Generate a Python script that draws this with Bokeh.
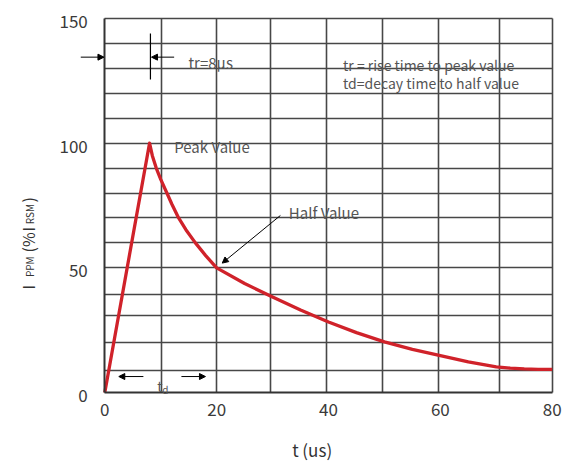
import math
from bokeh.plotting import figure
from bokeh.models import Range1d, FixedTicker, Label, Arrow, NormalHead, LinearAxis
from bokeh.embed import file_html
from bokeh.resources import INLINE

# data
t_us = [0, 8, 8.5, 9.2, 10, 11.1, 12, 13.2, 14.5, 16.2, 18, 20,
        25, 30, 35, 40, 45, 50, 55, 60, 65, 70, 72.5, 75, 77.5, 80]
ipp = [0, 100, 95, 90, 85.5, 80, 75.5, 70, 65.3, 60, 55, 50,
       43.7, 38.3, 33.1, 28.3, 24, 20.3, 17.3, 14.8, 12.3, 10.3, 9.75, 9.45, 9.3, 9.25]
x_ticks = [0, 20, 40, 60, 80]
y_ticks = [0, 50, 100, 150]
x_grid = [10.2, 20, 29.7, 39.6, 49.6, 59.7, 70.6, 80]
y_grid = [9, 20, 30.8, 39.4, 50, 60, 70, 80, 90, 100, 110, 120, 130, 140, 150]

FONT = "Noto Sans CJK SC"
GRID = "#474747"
TXT = "#555555"
W, H = 565, 464
SX = 447.4 / 80.0      # px per us
SY = 374.0 / 150.0     # px per %
X0 = -104.3 / SX
X1 = X0 + W / SX
Y1 = 150 + 18 / SY
Y0 = Y1 - H / SY

p = figure(width=W, height=H, output_backend="svg", toolbar_location=None,
           x_range=Range1d(X0, X1), y_range=Range1d(Y0, Y1), min_border=0)
p.title = None
p.background_fill_color = "white"
p.border_fill_color = "white"
p.outline_line_color = None

# offset range so the y tick labels sit on their grid lines
D = 1.2
p.extra_y_ranges = {"ylab": Range1d(Y0 + D, Y1 + D)}

def style_axis(ax):
    ax.major_tick_line_color = None
    ax.minor_tick_line_color = None
    ax.major_tick_out = 0
    ax.major_tick_in = 0
    ax.major_label_text_font = FONT
    ax.major_label_text_font_size = "17px"
    ax.major_label_text_color = "#3a3a3a"

xa = p.xaxis[0]
ya = p.yaxis[0]
for ax in (xa, ya):
    style_axis(ax)
    ax.axis_line_color = "#333333"
    ax.axis_line_width = 2
xa.fixed_location = 0
ya.fixed_location = 0
xa.bounds = (0, 80)
ya.bounds = (0, 150)
xa.ticker = FixedTicker(ticks=x_ticks)
xa.major_label_standoff = 10
ya.ticker = FixedTicker(ticks=[])

yl = LinearAxis(y_range_name="ylab", fixed_location=0, ticker=FixedTicker(ticks=y_ticks))
style_axis(yl)
yl.axis_line_color = None
yl.major_label_standoff = 17
p.add_layout(yl, "left")

xg = p.xgrid[0]
yg = p.ygrid[0]
xg.ticker = FixedTicker(ticks=x_grid)
yg.ticker = FixedTicker(ticks=y_grid)
if "cross_bounds" in xg.properties():
    xg.cross_bounds = (0, 150)
    yg.cross_bounds = (0, 80)
    for g in (xg, yg):
        g.grid_line_color = GRID
        g.grid_line_width = 1.6
else:
    xg.grid_line_color = None
    yg.grid_line_color = None
    p.segment(x0=x_grid, y0=[0] * len(x_grid), x1=x_grid, y1=[150] * len(x_grid),
              line_color=GRID, line_width=1.6, level="underlay")
    p.segment(x0=[0] * len(y_grid), y0=y_grid, x1=[80] * len(y_grid), y1=y_grid,
              line_color=GRID, line_width=1.6, level="underlay")

# white label boxes interrupting the grid
boxes_l = [13.0, 42.2, 10.9, 31.7, 8.8]
boxes_r = [26.4, 77.8, 28.4, 46.9, 12.0]
boxes_b = [128.5, 121.0, 96.5, 71.3, 0.8]
boxes_t = [139.2, 139.2, 104.2, 80.6, 8.3]
p.quad(left=boxes_l, right=boxes_r, bottom=boxes_b, top=boxes_t,
       fill_color="white", line_color=None, level="underlay")

# curve
p.line(t_us, ipp, line_color="#d0222a", line_width=3.3, line_join="round")

# tr marker
p.segment(x0=[8.16], y0=[125.5], x1=[8.16], y1=[144], line_color="black", line_width=1.2)

def arrow(x0, y0, x1, y1):
    p.add_layout(Arrow(end=NormalHead(size=6, fill_color="black", line_color="black"),
                       x_start=x0, y_start=y0, x_end=x1, y_end=y1,
                       line_color="black", line_width=1))

arrow(-4.3, 134.5, -0.15, 134.5)
arrow(12.4, 134.5, 8.35, 134.5)
arrow(31.4, 71.0, 21.0, 51.9)
arrow(6.9, 6.4, 2.5, 6.4)
arrow(13.7, 6.4, 18.0, 6.4)

def lab(x, y, text, size="15px", color=TXT, angle=0.0):
    p.add_layout(Label(x=x, y=y, text=text, text_font=FONT, text_font_size=size,
                       text_color=color, text_baseline="alphabetic", text_align="left",
                       angle=angle))

lab(14.95, 132.2, "tr=8µs")
lab(42.6, 131.5, "tr = rise time to peak value", size="14px")
lab(42.6, 124.3, "td=decay time to half value", size="14px")
lab(12.4, 98.5, "Peak Value")
lab(32.9, 72.3, "Half Value")
lab(9.37, 2.8, "t", size="14px")
lab(10.26, 1.1, "d", size="10px")

# axis titles
lab(33.5, -22.9, "t (us)", size="17px", color="#333333")
A = math.pi / 2
XB, XS = -13.82, -13.46
lab(XB, 41.3, "I", size="16px", color="#333333", angle=A)
lab(XS, 46.3, "PPM", size="10px", color="#333333", angle=A)
lab(XB, 56.15, "(%", size="16px", color="#333333", angle=A)
lab(XB, 64.6, "I", size="16px", color="#333333", angle=A)
lab(XS, 67.5, "RSM", size="10px", color="#333333", angle=A)
lab(XB, 76.2, ")", size="16px", color="#333333", angle=A)

open("out.html", "w").write(file_html(p, INLINE))
